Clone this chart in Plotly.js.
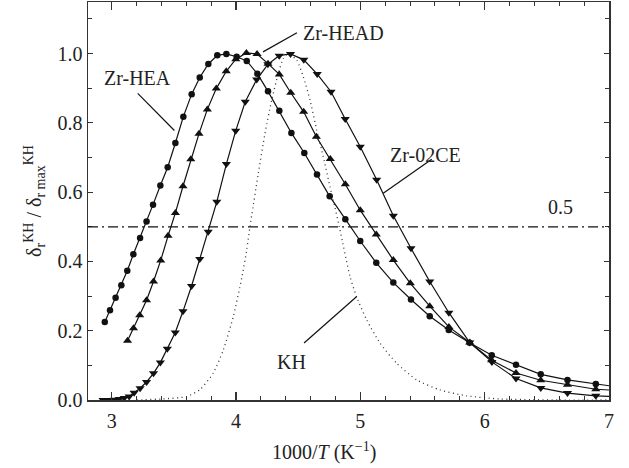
<!DOCTYPE html>
<html>
<head>
<meta charset="utf-8">
<script src="https://cdn.plot.ly/plotly-3.0.1.min.js"></script>
<style>html,body{margin:0;padding:0;background:#fff}#chart{width:629px;height:468px}</style>
</head>
<body>
<div id="chart"></div>
<script>
// Zr-HEA (circles)
const heaX = [2.944,2.986,3.031,3.077,3.125,3.174,3.228,3.280,3.332,3.391,3.450,3.512,3.576,3.643,3.708,3.777,3.849,3.922,4.005,4.086,4.171,4.257,4.348,4.445,4.549,4.651,4.753,4.879,4.999,5.128,5.265,5.407,5.558,5.711,5.879,6.057,6.252,6.451,6.666,6.894,7.14];
const heaY = [0.225,0.259,0.295,0.331,0.373,0.421,0.468,0.515,0.564,0.619,0.672,0.742,0.818,0.883,0.931,0.970,0.995,0.999,0.991,0.979,0.942,0.891,0.835,0.771,0.713,0.651,0.588,0.522,0.459,0.396,0.339,0.290,0.242,0.202,0.165,0.129,0.102,0.074,0.058,0.046,0.034];
// Zr-HEAD (up triangles)
const headX = [3.127,3.175,3.225,3.280,3.336,3.394,3.453,3.512,3.573,3.636,3.702,3.769,3.841,3.921,3.998,4.083,4.169,4.257,4.348,4.440,4.544,4.646,4.758,4.879,4.999,5.128,5.265,5.402,5.558,5.712,5.880,6.056,6.252,6.451,6.666,6.894,7.14];
const headY = [0.171,0.207,0.245,0.288,0.342,0.403,0.474,0.540,0.617,0.695,0.769,0.839,0.899,0.949,0.984,1.002,0.999,0.971,0.940,0.887,0.832,0.760,0.696,0.623,0.548,0.478,0.404,0.337,0.271,0.211,0.166,0.115,0.078,0.057,0.044,0.031,0.026];
// Zr-02CE (down triangles)
const ceX = [2.930,2.975,3.020,3.060,3.100,3.140,3.180,3.228,3.280,3.336,3.391,3.447,3.511,3.573,3.642,3.708,3.776,3.845,3.922,3.997,4.074,4.166,4.256,4.347,4.438,4.545,4.653,4.764,4.878,4.999,5.131,5.265,5.407,5.558,5.712,5.880,6.058,6.252,6.451,6.666,6.894,7.14];
const ceY = [0.000,0.000,0.001,0.003,0.006,0.010,0.021,0.034,0.052,0.077,0.108,0.148,0.195,0.256,0.329,0.407,0.486,0.572,0.681,0.777,0.861,0.925,0.969,0.994,0.999,0.982,0.941,0.890,0.811,0.731,0.636,0.532,0.438,0.342,0.252,0.166,0.110,0.062,0.035,0.020,0.012,0.009];
// KH (dotted)
const khX = [3.20,3.402,3.603,3.710,3.817,3.898,3.978,4.046,4.086,4.112,4.179,4.233,4.287,4.340,4.380,4.418,4.488,4.541,4.595,4.649,4.702,4.756,4.782,4.836,4.917,4.970,5.051,5.158,5.292,5.453,5.640,5.855,6.123,6.60,7.0];
const khY = [0.000,0.003,0.010,0.030,0.078,0.145,0.241,0.353,0.434,0.501,0.654,0.770,0.866,0.943,0.986,0.999,0.981,0.933,0.866,0.779,0.702,0.615,0.577,0.491,0.356,0.298,0.231,0.164,0.106,0.058,0.029,0.012,0.003,0.000,0.000];
const halfLevel = 0.5;

const xTickVals = [3,4,5,6,7];
const xTickText = ['3','4','5','6','7'];
const yTickVals = [0,0.2,0.4,0.6,0.8,1.0];
const yTickText = ['0.0','0.2','0.4','0.6','0.8','1.0'];

const FONT = 'Liberation Serif, Times New Roman, serif';
const INK = '#111';
const lineStyle = {color: INK, width: 1.2};

const traces = [
  {x: khX, y: khY, mode: 'lines', line: {color: '#333', width: 1.3, dash: '1px,3.5px', shape: 'spline', smoothing: 0.6}, hoverinfo: 'skip', name: 'KH'},
  {x: heaX, y: heaY, mode: 'lines+markers', line: lineStyle, marker: {symbol: 'circle', size: 6.5, color: INK}, name: 'Zr-HEA'},
  {x: headX, y: headY, mode: 'lines+markers', line: lineStyle, marker: {symbol: 'triangle-up', size: 8, color: INK}, name: 'Zr-HEAD'},
  {x: ceX, y: ceY, mode: 'lines+markers', line: lineStyle, marker: {symbol: 'triangle-down', size: 8, color: INK}, name: 'Zr-02CE'}
];

function label(text, x, y) {
  return {text: text, x: x, y: y, xref: 'x', yref: 'y', showarrow: false, font: {family: FONT, size: 20, color: '#222'}, xanchor: 'center', yanchor: 'middle'};
}
function leader(x1, y1, x0, y0) {
  return {type: 'line', xref: 'x', yref: 'y', x0: x0, y0: y0, x1: x1, y1: y1, line: {color: INK, width: 1.2}};
}

const layout = {
  width: 629, height: 468,
  margin: {l: 88, r: 20, t: 2, b: 68},
  paper_bgcolor: '#fff', plot_bgcolor: '#fff',
  showlegend: false,
  font: {family: FONT, size: 20, color: '#222'},
  xaxis: {
    range: [2.809, 7], showgrid: false, zeroline: false,
    showline: true, linecolor: '#333', linewidth: 1.5, mirror: 'allticks',
    ticks: 'inside', ticklen: 8, tickwidth: 1.2, tickcolor: '#333',
    tickvals: xTickVals, ticktext: xTickText, ticklabelstandoff: 2,
    tickfont: {family: FONT, size: 20, color: '#222'},
    minor: {dtick: 0.2, tick0: 0, ticks: 'inside', ticklen: 4, tickwidth: 1, tickcolor: '#333', showgrid: false}
  },
  yaxis: {
    range: [0, 1.149], showgrid: false, zeroline: false,
    showline: true, linecolor: '#333', linewidth: 1.5, mirror: 'allticks',
    ticks: 'inside', ticklen: 5, tickwidth: 1.2, tickcolor: '#333',
    tickvals: yTickVals, ticktext: yTickText,
    tickfont: {family: FONT, size: 20, color: '#222'},
    minor: {dtick: 0.1, tick0: 0, ticks: 'inside', ticklen: 4, tickwidth: 1, tickcolor: '#333', showgrid: false},
    title: {text: 'δ<sub>r</sub><sup>KH</sup> / δ<sub>r max</sub><sup>KH</sup>', font: {family: FONT, size: 20, color: '#222'}, standoff: 10}
  },
  shapes: [
    {type: 'line', xref: 'paper', yref: 'y', x0: 0, x1: 1, y0: halfLevel, y1: halfLevel, line: {color: INK, width: 1.2, dash: '10px,4px,2px,4px'}},
    leader(3.504, 0.778, 3.209, 0.885),
    leader(4.217, 1.005, 4.490, 1.060),
    leader(5.184, 0.597, 5.574, 0.695),
    leader(4.971, 0.299, 4.547, 0.1645)
  ],
  annotations: [
    label('Zr-HEA', 3.210, 0.931),
    label('Zr-HEAD', 4.863, 1.060),
    label('Zr-02CE', 5.520, 0.708),
    label('KH', 4.445, 0.111),
    label('0.5', 6.612, 0.557),
    {text: '1000/<i>T</i> (K<sup>−1</sup>)', xref: 'paper', yref: 'paper', x: 0.453, y: -0.130, showarrow: false, xanchor: 'center', yanchor: 'middle', font: {family: FONT, size: 20, color: '#222'}}
  ]
};

Plotly.newPlot('chart', traces, layout, {displayModeBar: false, staticPlot: true});
</script>
</body>
</html>
